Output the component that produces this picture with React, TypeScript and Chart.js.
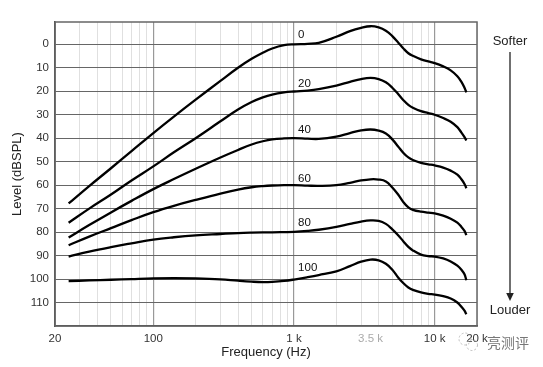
import React, { useEffect, useRef } from 'react';
import { Chart, registerables } from 'chart.js';

Chart.register(...registerables);

const frequencies = [25, 35, 50, 70, 100, 140, 200, 300, 400, 500, 600, 700, 850, 1000, 1250, 1500, 2000, 2500, 3000, 3500, 4000, 4500, 5000, 5500, 6000, 6500, 7000, 8000, 9000, 10000, 11500, 13000, 14500, 15500, 16300, 16800];

const phon0 = [67.8, 60.4, 52.8, 45.5, 37.8, 30.8, 23.6, 15.6, 10, 6.2, 3.6, 1.8, 0.4, 0, -0.2, -0.6, -3.2, -5.6, -7, -7.7, -7.2, -5.8, -3.5, -0.8, 1.8, 3.8, 4.9, 6.4, 7.3, 8.0, 9.4, 11.1, 13.6, 16, 18.5, 20.5];
const phon20 = [76, 70, 64, 58, 52, 46, 40, 32.8, 27.8, 24.6, 22.6, 21.4, 20.5, 20.1, 19.7, 19.1, 17.6, 16, 14.8, 14.3, 14.8, 16.2, 18.5, 21.2, 23.8, 25.8, 27, 28.5, 29.3, 30, 31.4, 33, 35.3, 37.6, 39.5, 41];
const phon40 = [82.3, 77, 71.6, 66.7, 61.7, 57.4, 53, 48.2, 45, 42.7, 41.3, 40.5, 40.1, 40, 40.2, 40.3, 39.3, 37.8, 36.7, 36.3, 36.8, 38, 40.5, 43.5, 46.3, 48.2, 49.3, 50.5, 51.1, 51.6, 52.5, 53.8, 55.5, 57.5, 59.5, 61.3];
const phon60 = [85.6, 81.9, 78.3, 74.9, 71.5, 68.8, 66.3, 63.6, 61.9, 60.9, 60.4, 60.15, 60, 60, 60.2, 60.3, 60, 59, 58, 57.5, 57.6, 58.4, 61, 64, 67.3, 69.5, 70.5, 71.3, 71.7, 72, 73, 74.3, 76, 77.8, 79.5, 81.3];
const phon80 = [90.4, 88.3, 86.4, 84.8, 83.2, 82.2, 81.4, 80.8, 80.4, 80.2, 80.1, 80.1, 80, 79.9, 79.5, 79, 77.8, 76.5, 75.5, 75, 75.2, 76.5, 78.8, 81.3, 84, 86.3, 87.8, 89.6, 90.2, 90.4, 91.2, 92.5, 94.3, 96, 98, 100.5];
const phon100 = [100.9, 100.6, 100.3, 100, 99.7, 99.6, 99.7, 100.1, 100.7, 101.1, 101.3, 101.2, 100.8, 100.2, 99.2, 98.3, 96.7, 94.5, 92.6, 91.7, 92, 93.5, 96, 99.3, 101.8, 103.6, 104.6, 105.7, 106.3, 106.6, 107.3, 108.3, 110, 111.8, 113.5, 115];

const curveNames = ['0', '20', '40', '60', '80', '100'];
const curveLevels = [phon0, phon20, phon40, phon60, phon80, phon100];
const labelFreq = 1070;
const labelLevels = [-4.1, 16.7, 36.6, 57.1, 76, 95.4];

const xGridValues = [20, 30, 40, 50, 60, 70, 80, 90, 100, 200, 300, 400, 500, 600, 700, 800, 900, 1000, 2000, 3000, 3500, 4000, 5000, 6000, 7000, 8000, 9000, 10000, 20000];
const xMajor = [100, 1000, 10000];
const xTickLabels: Record<number, string> = { 20: '20', 100: '100', 1000: '1 k', 3500: '3.5 k', 10000: '10 k', 20000: '20 k' };
const yTickValues = [0, 10, 20, 30, 40, 50, 60, 70, 80, 90, 100, 110];

const FONT = "'Liberation Sans', Arial, Helvetica, sans-serif";

export default function App() {
  const ref = useRef<HTMLCanvasElement>(null);

  useEffect(() => {
    document.body.style.margin = '0';
    const canvas = ref.current!;
    const overlay = {
      id: 'overlay',
      beforeDatasetsDraw(chart: any) {
        const { ctx, chartArea } = chart;
        ctx.save();
        ctx.strokeStyle = '#666';
        ctx.lineWidth = 1.5;
        ctx.strokeRect(chartArea.left, chartArea.top, chartArea.right - chartArea.left, chartArea.bottom - chartArea.top);
        ctx.restore();
      },
      afterDraw(chart: any) {
        const { ctx, chartArea, scales } = chart;
        ctx.save();
        ctx.fillStyle = '#111';
        ctx.font = `11.5px ${FONT}`;
        ctx.textAlign = 'left';
        ctx.textBaseline = 'middle';
        curveNames.forEach((n, i) => {
          ctx.fillText(n, scales.x.getPixelForValue(labelFreq), scales.y.getPixelForValue(labelLevels[i]));
        });
        ctx.fillStyle = '#222';
        ctx.font = `13px ${FONT}`;
        ctx.textAlign = 'center';
        ctx.fillText('Frequency (Hz)', (chartArea.left + chartArea.right) / 2, 352);
        ctx.save();
        ctx.translate(17, (chartArea.top + chartArea.bottom) / 2);
        ctx.rotate(-Math.PI / 2);
        ctx.fillText('Level (dBSPL)', 0, 0);
        ctx.restore();
        const ax = chartArea.right + 33;
        ctx.fillText('Softer', ax, chartArea.top + 19);
        ctx.fillText('Louder', ax, chartArea.bottom - 16);
        ctx.strokeStyle = '#222';
        ctx.lineWidth = 1.3;
        ctx.beginPath();
        ctx.moveTo(ax, chartArea.top + 30);
        ctx.lineTo(ax, chartArea.bottom - 30);
        ctx.stroke();
        ctx.fillStyle = '#222';
        ctx.beginPath();
        ctx.moveTo(ax, chartArea.bottom - 25);
        ctx.lineTo(ax - 3.8, chartArea.bottom - 33);
        ctx.lineTo(ax + 3.8, chartArea.bottom - 33);
        ctx.closePath();
        ctx.fill();
        ctx.strokeStyle = '#bbb';
        ctx.lineWidth = 1;
        ctx.setLineDash([2, 2]);
        ctx.beginPath();
        ctx.arc(chartArea.right - 12, 339, 6, 0, Math.PI * 2);
        ctx.stroke();
        ctx.beginPath();
        ctx.arc(chartArea.right - 5, 345, 5.5, 0, Math.PI * 2);
        ctx.stroke();
        ctx.setLineDash([]);
        ctx.fillStyle = '#777';
        ctx.font = `14px 'Noto Sans CJK SC', sans-serif`;
        ctx.textAlign = 'left';
        ctx.fillText('亮测评', chartArea.right + 10, 343);
        ctx.restore();
      },
    };

    const chart = new Chart(canvas, {
      type: 'line',
      data: {
        datasets: curveLevels.map((lv, i) => ({
          label: curveNames[i],
          data: frequencies.map((f, j) => ({ x: f, y: lv[j] })),
          borderColor: '#000',
          borderWidth: 2.3,
          pointRadius: 0,
          fill: false,
          tension: 0.4,
        })),
      },
      options: {
        animation: false,
        responsive: false,
        devicePixelRatio: 1,
        layout: { padding: { top: 22, right: 66, left: 0, bottom: 0 } },
        plugins: { legend: { display: false }, tooltip: { enabled: false } },
        scales: {
          x: {
            type: 'logarithmic',
            min: 20,
            max: 20000,
            afterBuildTicks: (s: any) => { s.ticks = xGridValues.map((v) => ({ value: v })); },
            afterFit: (s: any) => { s.height = 41; },
            grid: {
              drawTicks: false,
              color: (c: any) => {
                const v = c.tick?.value;
                if (v === 3500) return 'rgba(0,0,0,0)';
                return xMajor.includes(v) ? '#999' : '#e0e0e0';
              },
              lineWidth: (c: any) => (xMajor.includes(c.tick?.value) ? 1.2 : 1),
            },
            border: { color: '#444', width: 1.5 },
            ticks: {
              autoSkip: false,
              maxRotation: 0,
              padding: 6,
              font: { family: FONT, size: 11.5 },
              color: (c: any) => (c.tick?.value === 3500 ? '#aaa' : '#333'),
              callback: (v: any) => xTickLabels[Number(v)] ?? '',
            },
          },
          y: {
            type: 'linear',
            reverse: true,
            min: -9.5,
            max: 120,
            afterBuildTicks: (s: any) => { s.ticks = yTickValues.map((v) => ({ value: v })); },
            afterFit: (s: any) => { s.width = 55; },
            grid: { drawTicks: false, color: '#666', lineWidth: 1 },
            border: { color: '#444', width: 1.5 },
            ticks: {
              padding: 6,
              font: { family: FONT, size: 11.5 },
              color: '#333',
              callback: (v: any) => String(v),
            },
          },
        },
      },
      plugins: [overlay],
    });
    return () => chart.destroy();
  }, []);

  return (
    <div style={{ width: 543, height: 367 }}>
      <canvas ref={ref} width={543} height={367} style={{ width: 543, height: 367, display: 'block' }} />
    </div>
  );
}
